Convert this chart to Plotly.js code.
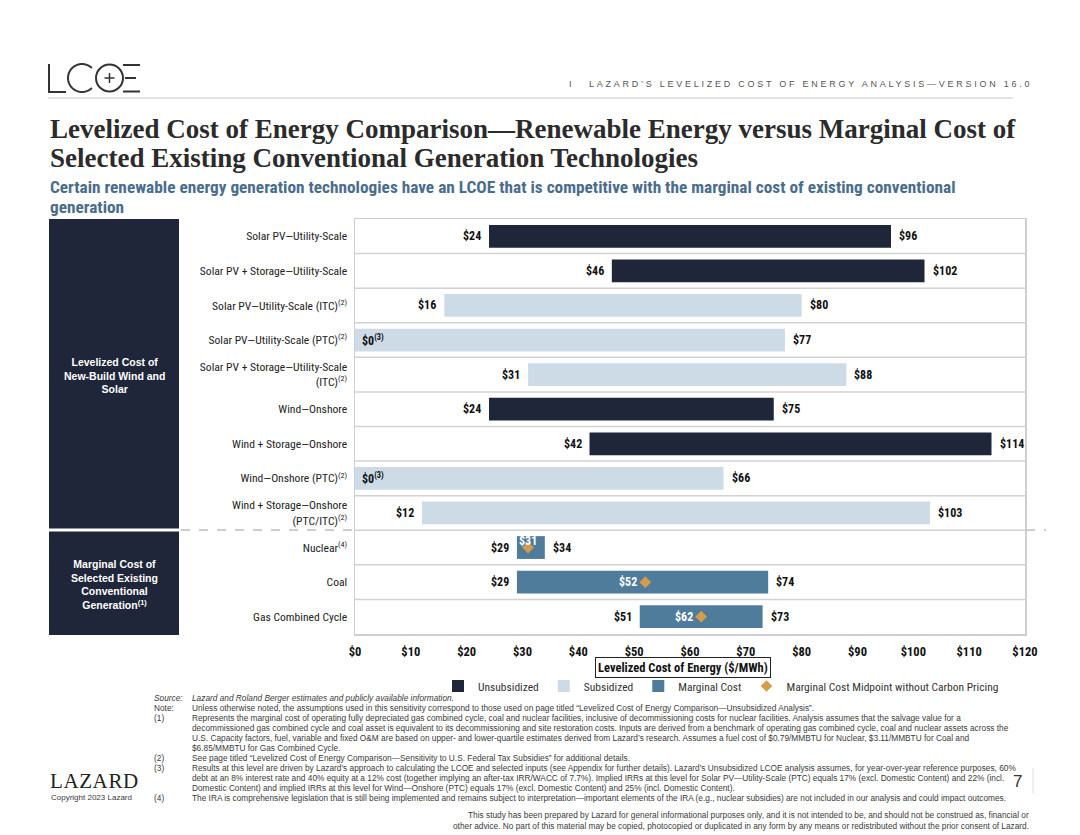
<!DOCTYPE html>
<html><head><meta charset="utf-8">
<script src="https://cdn.plot.ly/plotly-3.0.1.min.js"></script>
<style>
html,body{margin:0;padding:0;background:#fff;}
#chart{width:1080px;height:835px;}
</style>
</head><body><div id="chart"></div>
<script>
// ---------------- DATA ----------------
const categories = [
  'Solar PV\u2014Utility-Scale',
  'Solar PV + Storage\u2014Utility-Scale',
  'Solar PV\u2014Utility-Scale (ITC)<sup>(2)</sup>',
  'Solar PV\u2014Utility-Scale (PTC)<sup>(2)</sup>',
  'Solar PV + Storage\u2014Utility-Scale<br>(ITC)<sup>(2)</sup>',
  'Wind\u2014Onshore',
  'Wind + Storage\u2014Onshore',
  'Wind\u2014Onshore (PTC)<sup>(2)</sup>',
  'Wind + Storage\u2014Onshore<br>(PTC/ITC)<sup>(2)</sup>',
  'Nuclear<sup>(4)</sup>',
  'Coal',
  'Gas Combined Cycle'
];
const lowValues  = [24, 46, 16, 0, 31, 24, 42, 0, 12, 29, 29, 51];
const highValues = [96, 102, 80, 77, 88, 75, 114, 66, 103, 34, 74, 73];
const seriesType = ['Unsubsidized','Unsubsidized','Subsidized','Subsidized','Subsidized',
  'Unsubsidized','Unsubsidized','Subsidized','Subsidized','Marginal Cost','Marginal Cost','Marginal Cost'];
const lowNotes = ['', '', '', '(3)', '', '', '', '(3)', '', '', '', ''];
const midpointValues = [null, null, null, null, null, null, null, null, null, 31, 52, 62];
const seriesNames = ['Unsubsidized', 'Subsidized', 'Marginal Cost'];
const midpointName = 'Marginal Cost Midpoint without Carbon Pricing';
const xTicks = [0, 10, 20, 30, 40, 50, 60, 70, 80, 90, 100, 110, 120];
const groupLabels = ['Levelized Cost of<br>New-Build Wind and<br>Solar',
  'Marginal Cost of<br>Selected Existing<br>Conventional<br>Generation<sup>(1)</sup>'];

// ---------------- STYLE ----------------
const NARROW = '"Liberation Sans Narrow", "Arial Narrow", "Roboto Condensed", sans-serif';
const SANS = '"Liberation Sans", Arial, sans-serif';
const SERIF = '"Liberation Serif", "Times New Roman", serif';
const colors = {'Unsubsidized':'#1f2639', 'Subsidized':'#cddbe7', 'Marginal Cost':'#4f7c9b'};
const diamondColor = '#d49c4b';
const L = 355, T = 219, W = 670, H = 415, FW = 1080, FH = 835;
const px = x => (x - L) / W;
const py = y => (T + H - y) / H;
const FN = 8.3, FNC = '#3a3a3a';

// ---------------- TRACES ----------------
const traces = [];
const idxAll = categories.map((_, i) => i);
seriesNames.forEach(name => {
  const idx = idxAll.filter(i => seriesType[i] === name);
  traces.push({
    type: 'bar', orientation: 'h', name: name,
    y: idx, base: idx.map(i => lowValues[i]), x: idx.map(i => highValues[i] - lowValues[i]),
    width: 0.66, marker: {color: colors[name], line: {width: 0}}, hoverinfo: 'skip'
  });
});
const midIdx = idxAll.filter(i => midpointValues[i] !== null);
traces.push({
  type: 'scatter', mode: 'markers', name: midpointName,
  x: midIdx.map(i => midpointValues[i]), y: midIdx,
  marker: {symbol: 'diamond', size: 9, color: diamondColor}, hoverinfo: 'skip'
});

// ---------------- ANNOTATIONS ----------------
const ann = [];
function txt(text, x, y, o) {
  o = o || {};
  return Object.assign({
    text: text, xref: 'paper', yref: 'paper', x: px(x), y: py(y),
    xanchor: 'left', yanchor: 'middle', showarrow: false, align: 'left',
    font: {family: SANS, size: 8, color: '#333'}
  }, o);
}
// value labels
idxAll.forEach(i => {
  const lf = {family: NARROW, size: 12, color: '#111', weight: 700};
  if (lowValues[i] === 0) {
    ann.push({xref: 'x', yref: 'y', x: lowValues[i], y: i, showarrow: false, xanchor: 'left', xshift: 5,
      text: '$' + lowValues[i] + (lowNotes[i] ? '<sup>' + lowNotes[i] + '</sup>' : ''), font: lf});
  } else {
    ann.push({xref: 'x', yref: 'y', x: lowValues[i], y: i, showarrow: false, xanchor: 'right', xshift: -6,
      text: '$' + lowValues[i], font: lf});
  }
  ann.push({xref: 'x', yref: 'y', x: highValues[i], y: i, showarrow: false, xanchor: 'left', xshift: 6,
    text: '$' + highValues[i], font: lf});
});
midIdx.forEach(i => {
  const span = highValues[i] - lowValues[i];
  const f = {family: NARROW, size: 12, color: '#ffffff', weight: 700};
  if (span < 10) {
    ann.push({xref: 'x', yref: 'y', x: midpointValues[i], y: i, showarrow: false, xanchor: 'center', yshift: 7,
      text: '$' + midpointValues[i], font: f});
  } else {
    ann.push({xref: 'x', yref: 'y', x: midpointValues[i], y: i, showarrow: false, xanchor: 'right', xshift: -6,
      text: '$' + midpointValues[i], font: f});
  }
});
// header
ann.push(txt('I', 567, 84, {font: {family: SANS, size: 9, color: '#555'}}));
const headerIdx = ann.length;
ann.push(txt('LAZARD\u2019S LEVELIZED COST OF ENERGY ANALYSIS\u2014VERSION 16.0', 587, 84,
  {font: {family: SANS, size: 9, color: '#555'}}));
// title
ann.push(txt('Levelized Cost of Energy Comparison\u2014Renewable Energy versus Marginal Cost of', 48, 129,
  {font: {family: SERIF, size: 27, color: '#2b2b2b', weight: 700}}));
ann.push(txt('Selected Existing Conventional Generation Technologies', 48, 158,
  {font: {family: SERIF, size: 27, color: '#2b2b2b', weight: 700}}));
ann.push(txt('Certain renewable energy generation technologies have an LCOE that is competitive with the marginal cost of existing conventional', 48, 187,
  {font: {family: NARROW, size: 17.3, color: '#4a6d8c', weight: 700}}));
ann.push(txt('generation', 48, 207, {font: {family: NARROW, size: 17.3, color: '#4a6d8c', weight: 700}}));
// group panels text
ann.push(txt(groupLabels[0], 114.5, 375, {xanchor: 'center', align: 'center',
  font: {family: SANS, size: 10.5, color: '#ffffff', weight: 700}}));
ann.push(txt(groupLabels[1], 114.5, 584, {xanchor: 'center', align: 'center',
  font: {family: SANS, size: 10.5, color: '#ffffff', weight: 700}}));
// axis title in a box
ann.push(txt('Levelized Cost of Energy ($/MWh)', 683, 667, {xanchor: 'center', align: 'center',
  bordercolor: '#222', borderwidth: 1, borderpad: 2,
  font: {family: NARROW, size: 12.5, color: '#111', weight: 700}}));
// footnotes
const fnLabels = [['Source:', 698], ['Note:', 708], ['(1)', 718], ['(2)', 758], ['(3)', 768], ['(4)', 798]];
fnLabels.forEach(([t, y], k) => ann.push(txt(k === 0 ? '<i>' + t + '</i>' : t, 152, y, {font: {family: SANS, size: FN, color: FNC}})));
const fnLines = [
  ['<i>Lazard and Roland Berger estimates and publicly available information.</i>', 698],
  ['Unless otherwise noted, the assumptions used in this sensitivity correspond to those used on page titled \u201cLevelized Cost of Energy Comparison\u2014Unsubsidized Analysis\u201d.', 708],
  ['Represents the marginal cost of operating fully depreciated gas combined cycle, coal and nuclear facilities, inclusive of decommissioning costs for nuclear facilities. Analysis assumes that the salvage value for a', 718],
  ['decommissioned gas combined cycle and coal asset is equivalent to its decommissioning and site restoration costs. Inputs are derived from a benchmark of operating gas combined cycle, coal and nuclear assets across the', 728],
  ['U.S. Capacity factors, fuel, variable and fixed O&amp;M are based on upper- and lower-quartile estimates derived from Lazard\u2019s research. Assumes a fuel cost of $0.79/MMBTU for Nuclear, $3.11/MMBTU for Coal and', 738],
  ['$6.85/MMBTU for Gas Combined Cycle.', 748],
  ['See page titled \u201cLevelized Cost of Energy Comparison\u2014Sensitivity to U.S. Federal Tax Subsidies\u201d for additional details.', 758],
  ['Results at this level are driven by Lazard\u2019s approach to calculating the LCOE and selected inputs (see Appendix for further details). Lazard\u2019s Unsubsidized LCOE analysis assumes, for year-over-year reference purposes, 60%', 768],
  ['debt at an 8% interest rate and 40% equity at a 12% cost (together implying an after-tax IRR/WACC of 7.7%). Implied IRRs at this level for Solar PV\u2014Utility-Scale (PTC) equals 17% (excl. Domestic Content) and 22% (incl.', 778],
  ['Domestic Content) and implied IRRs at this level for Wind\u2014Onshore (PTC) equals 17% (excl. Domestic Content) and 25% (incl. Domestic Content).', 788],
  ['The IRA is comprehensive legislation that is still being implemented and remains subject to interpretation\u2014important elements of the IRA (e.g., nuclear subsidies) are not included in our analysis and could impact outcomes.', 798]
];
fnLines.forEach(([t, y]) => ann.push(txt(t, 190, y, {font: {family: SANS, size: FN, color: FNC}})));
ann.push(txt('This study has been prepared by Lazard for general informational purposes only, and it is not intended to be, and should not be construed as, financial or', 1031, 815,
  {xanchor: 'right', align: 'right', font: {family: SANS, size: 8.3, color: FNC}}));
ann.push(txt('other advice. No part of this material may be copied, photocopied or duplicated in any form by any means or redistributed without the prior consent of Lazard.', 1031, 826,
  {xanchor: 'right', align: 'right', font: {family: SANS, size: 8.3, color: FNC}}));
// Lazard logo + copyright + page
const logoIdx = ann.length;
ann.push(txt('LAZARD', 48, 781, {font: {family: SERIF, size: 21, color: '#222'}}));
ann.push(txt('Copyright 2023 Lazard', 49, 797, {font: {family: SANS, size: 8, color: FNC}}));
ann.push(txt('7', 1017, 781, {xanchor: 'center', align: 'center', font: {family: SANS, size: 17, color: '#333'}}));

// letter-spaced header line and logo
document.head.insertAdjacentHTML('beforeend',
  '<style>.annotation[data-index="' + headerIdx + '"] text{letter-spacing:2.75px;}' +
  '.annotation[data-index="' + logoIdx + '"] text{letter-spacing:0.6px;}</style>');

// ---------------- SHAPES ----------------
const shapes = [];
function pline(x0, y0, x1, y1, color, width, dash) {
  return {type: 'line', xref: 'paper', yref: 'paper', x0: px(x0), y0: py(y0), x1: px(x1), y1: py(y1),
    line: {color: color, width: width, dash: dash || 'solid'}};
}
// header separator
shapes.push(pline(48, 98, 1013, 98, '#e4e4e4', 2));
// logo LC(+)E drawn with strokes
const lc = '#333';
shapes.push(pline(49, 64, 49, 92, lc, 2));
shapes.push(pline(48, 92, 66, 92, lc, 2));
(function () {
  const cx = 82, cy = 78, r = 14, pts = [];
  for (let a = 45; a <= 315; a += 5) {
    const rad = a * Math.PI / 180;
    pts.push([px(cx + r * Math.cos(rad)), py(cy - r * Math.sin(rad))]);
  }
  shapes.push({type: 'path', xref: 'paper', yref: 'paper',
    path: 'M' + pts.map(p => p[0] + ',' + p[1]).join('L'), line: {color: lc, width: 2}});
})();
shapes.push({type: 'circle', xref: 'paper', yref: 'paper', x0: px(96), x1: px(123), y0: py(64.5), y1: py(91.5),
  line: {color: lc, width: 2}});
shapes.push(pline(104.5, 78, 114.5, 78, lc, 1.5));
shapes.push(pline(109.5, 73, 109.5, 83, lc, 1.5));
shapes.push(pline(123, 65, 140, 65, lc, 2));
shapes.push(pline(125, 78, 136, 78, lc, 2));
shapes.push(pline(123, 91.5, 140, 91.5, lc, 2));
// left group panels
shapes.push({type: 'rect', xref: 'paper', yref: 'paper', x0: px(49), x1: px(179), y0: py(219), y1: py(528.5),
  fillcolor: '#1f2639', line: {width: 0}, layer: 'below'});
shapes.push({type: 'rect', xref: 'paper', yref: 'paper', x0: px(49), x1: px(179), y0: py(531.5), y1: py(635),
  fillcolor: '#1f2639', line: {width: 0}, layer: 'below'});
// dashed group divider outside the plot
shapes.push(pline(181, 530, 354, 530, '#bdbdbd', 1.5, 'dash'));
shapes.push(pline(1026, 530, 1046, 530, '#bdbdbd', 1.5, 'dash'));
// row separators
for (let i = 0; i < categories.length - 1; i++) {
  shapes.push({type: 'line', xref: 'paper', yref: 'y', x0: 0, x1: 1, y0: i + 0.5, y1: i + 0.5,
    line: {color: '#d2d2d2', width: 1.5}, layer: 'below'});
}
// page number divider
shapes.push(pline(1033, 768, 1033, 794, '#dddddd', 1));

// ---------------- LAYOUT ----------------
const layout = {
  width: FW, height: FH,
  margin: {l: L, r: FW - L - W, t: T, b: FH - T - H, pad: 0},
  paper_bgcolor: '#ffffff', plot_bgcolor: 'rgba(0,0,0,0)',
  barmode: 'overlay',
  showlegend: true,
  legend: {orientation: 'h', x: px(438), xanchor: 'left', y: py(686), yanchor: 'middle',
    font: {family: NARROW, size: 11.5, color: '#333'}, bgcolor: 'rgba(0,0,0,0)',
    itemwidth: 30, traceorder: 'normal'},
  xaxis: {range: [0, 120], tickvals: xTicks, ticktext: xTicks.map(v => '$' + v),
    showgrid: false, zeroline: false, showline: true, mirror: true, linecolor: '#cfcfcf', linewidth: 1.5,
    ticks: 'outside', ticklen: 5, tickcolor: 'rgba(0,0,0,0)',
    tickfont: {family: NARROW, size: 12.5, color: '#111', weight: 700}, fixedrange: true},
  yaxis: {range: [categories.length - 0.5, -0.5], tickvals: idxAll, ticktext: categories,
    showgrid: false, zeroline: false, showline: true, mirror: true, linecolor: '#cfcfcf', linewidth: 1.5,
    ticks: 'outside', ticklen: 4, tickcolor: 'rgba(0,0,0,0)',
    tickfont: {family: NARROW, size: 11.6, color: '#222'}, fixedrange: true},
  annotations: ann,
  shapes: shapes
};

Plotly.newPlot('chart', traces, layout, {displayModeBar: false, staticPlot: true});
</script>
</body></html>
